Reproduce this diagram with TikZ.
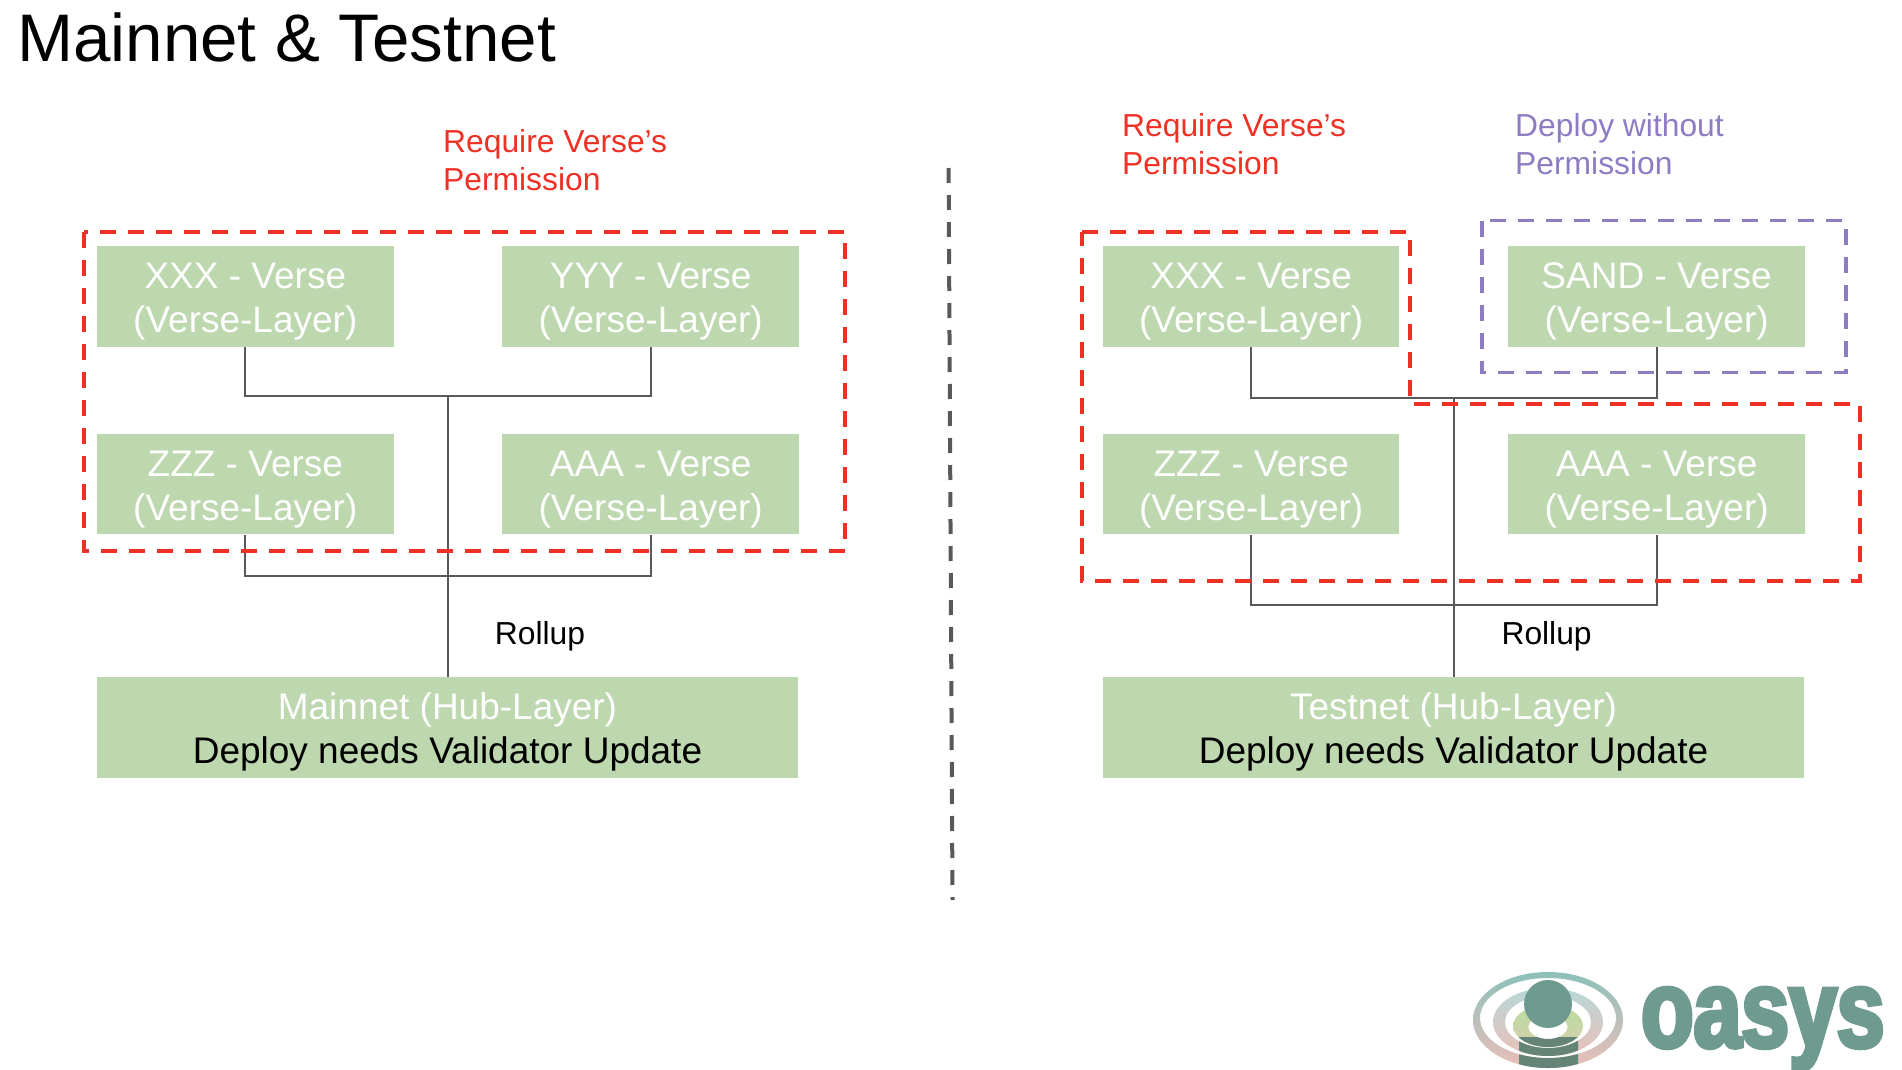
\documentclass[tikz,border=0pt]{standalone}
\usepackage{fontspec}
\usepackage{tikz}
\usetikzlibrary{positioning}
\setmainfont{Liberation Sans}
\newfontfamily\logofont[FakeStretch=0.78,FakeBold=4]{Liberation Sans Bold}
\definecolor{boxgreen}{HTML}{BDD7AE}
\definecolor{wiregrey}{HTML}{595959}
\definecolor{framered}{HTML}{EE3124}
\definecolor{framepurple}{HTML}{8E7CC3}
\definecolor{logogreen}{HTML}{6F9A90}
\definecolor{logodark}{HTML}{648478}
\definecolor{logoteal}{HTML}{8CC0BA}
\definecolor{logopale}{HTML}{B8D8D8}
\definecolor{logolime}{HTML}{BBDEA0}
\definecolor{logopink}{HTML}{EBBFB9}
\newcommand{\TwoLines}[2]{\rule{0pt}{36.2pt}#1\\#2}
\tikzset{
  VerseBox/.style={fill=boxgreen,text=white,minimum width=296.5pt,minimum height=100.7pt,inner sep=0pt,align=center,font=\fontsize{37}{44}\selectfont},
  HubBox/.style={VerseBox,minimum width=701pt},
  Wire/.style={draw=wiregrey,line width=2pt},
  RedFrame/.style={draw=framered,line width=3.2pt,dash pattern=on 16pt off 12pt},
  PurpleFrame/.style={draw=framepurple,line width=3.2pt,dash pattern=on 16pt off 12pt},
  NoteLabel/.style={anchor=west,align=left,inner sep=0pt,font=\fontsize{31.8}{38.4}\selectfont},
  RollupLabel/.style={font=\fontsize{31.8}{36}\selectfont}
}

\begin{document}
\begin{tikzpicture}[x=1pt,y=-1pt,node distance=86.5pt and 108.5pt]
    \useasboundingbox (0,0) rectangle (1902,1070);

    \node[anchor=base west,inner sep=0pt,font=\fontsize{67.3}{70}\selectfont] (title) at (17,62) {Mainnet \& Testnet};

    \node[VerseBox] (xxxL) at (245.3,296.5) {\TwoLines{XXX - Verse}{(Verse-Layer)}};
    \node[VerseBox,right=of xxxL] (yyyL) {\TwoLines{YYY - Verse}{(Verse-Layer)}};
    \node[VerseBox,below=of xxxL] (zzzL) {\TwoLines{ZZZ - Verse}{(Verse-Layer)}};
    \node[VerseBox,right=of zzzL] (aaaL) {\TwoLines{AAA - Verse}{(Verse-Layer)}};
    \node[HubBox] (hubL) at (447.5,727.5) {\TwoLines{Mainnet (Hub-Layer)}{\textcolor{black}{Deploy needs Validator Update}}};

    \node[VerseBox] (xxxR) at (1251.2,296.5) {\TwoLines{XXX - Verse}{(Verse-Layer)}};
    \node[VerseBox,right=of xxxR] (sandR) {\TwoLines{SAND - Verse}{(Verse-Layer)}};
    \node[VerseBox,below=of xxxR] (zzzR) {\TwoLines{ZZZ - Verse}{(Verse-Layer)}};
    \node[VerseBox,right=of zzzR] (aaaR) {\TwoLines{AAA - Verse}{(Verse-Layer)}};
    \node[HubBox] (hubR) at (1453.5,727.5) {\TwoLines{Testnet (Hub-Layer)}{\textcolor{black}{Deploy needs Validator Update}}};

    \coordinate (topL) at (447.5,396);
    \coordinate (lowL) at (447.5,575.7);
    \coordinate (topR) at (1453.5,398);
    \coordinate (lowR) at (1453.5,605);

    \draw[Wire] (xxxL.south) |- (topL) -| (yyyL.south);
    \draw[Wire] (zzzL.south) |- (lowL) -| (aaaL.south);
    \draw[Wire] (hubL.north) -- (topL);
    \draw[Wire] (xxxR.south) |- (topR) -| (sandR.south);
    \draw[Wire] (zzzR.south) |- (lowR) -| (aaaR.south);
    \draw[Wire] (hubR.north) -- (topR);

    \draw[RedFrame] (84,232) rectangle (845,551);
    \draw[RedFrame] (1082,232) -- (1410,232) -- (1410,404) -- (1860,404) -- (1860,581) -- (1082,581) -- cycle;
    \draw[PurpleFrame] (1482,220.5) rectangle (1846,372.5);

    \node[NoteLabel,text=framered] (noteL) at (443,160) {Require Verse’s\\Permission};
    \node[NoteLabel,text=framered] (noteR) at (1122,144) {Require Verse’s\\Permission};
    \node[NoteLabel,text=framepurple] (noteP) at (1515,144) {Deploy without\\Permission};
    \node[RollupLabel] (rollupL) at (540,636) {Rollup};
    \node[RollupLabel] (rollupR) at (1546.6,636) {Rollup};

    \coordinate (splitTop) at (948.6,168);
    \coordinate (splitEnd) at (952.5,900);
    \draw[draw=wiregrey,line width=4pt,dash pattern=on 15pt off 12pt] (splitTop) -- (splitEnd);

    \shade[even odd rule,top color=logoteal,middle color=logolime,bottom color=logopink]
      (1548,1020) ellipse (75pt and 48pt) (1548,1018) ellipse (68pt and 40pt);
    \shade[even odd rule,top color=logopale,middle color=logolime,bottom color=logopink]
      (1548,1022) ellipse (55pt and 34pt) (1548,1022) ellipse (43pt and 26pt);
    \shade[even odd rule,top color=logolime,bottom color=logopink!50!logolime]
      (1548,1026) ellipse (35pt and 21pt) (1548,1027) ellipse (19.5pt and 12pt);
    \begin{scope}
      \clip (1519,1037) rectangle (1578,1070);
      \fill[even odd rule,logodark] (1548,1020) ellipse (75pt and 48pt) (1548,1018) ellipse (68pt and 40pt);
      \fill[even odd rule,logodark] (1548,1022) ellipse (55pt and 34pt) (1548,1022) ellipse (43pt and 26pt);
      \fill[even odd rule,logodark] (1548,1026) ellipse (35pt and 21pt) (1548,1027) ellipse (19.5pt and 12pt);
    \end{scope}
    \fill[logogreen] (1548,1004) circle (24pt);
    \node[anchor=base west,inner sep=0pt,text=logogreen,font=\logofont\fontsize{110}{110}\selectfont] (logo) at (1641,1047) {oasys};
\end{tikzpicture}
\end{document}
